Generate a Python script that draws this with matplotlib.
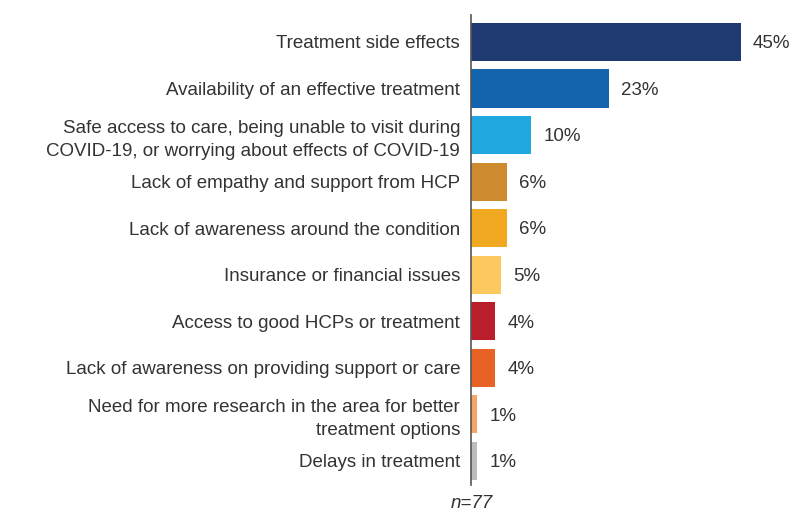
import matplotlib
matplotlib.use("Agg")
import matplotlib.pyplot as plt

categories = [
    "Treatment side effects",
    "Availability of an effective treatment",
    "Safe access to care, being unable to visit during\nCOVID-19, or worrying about effects of COVID-19",
    "Lack of empathy and support from HCP",
    "Lack of awareness around the condition",
    "Insurance or financial issues",
    "Access to good HCPs or treatment",
    "Lack of awareness on providing support or care",
    "Need for more research in the area for better\ntreatment options",
    "Delays in treatment",
]
values = [45, 23, 10, 6, 6, 5, 4, 4, 1, 1]
value_labels = ["45%", "23%", "10%", "6%", "6%", "5%", "4%", "4%", "1%", "1%"]
colors = ["#1F3A70", "#1464AD", "#22A8E0", "#CE8A2E", "#F2A922",
          "#FDC85E", "#BA1E2B", "#E86226", "#F9A466", "#BDBDBD"]

plt.rcParams['font.family'] = ['Liberation Sans', 'DejaVu Sans']
fig = plt.figure(figsize=(8, 5.24), dpi=100)
ax = fig.add_axes([0.589, 0.0744, 0.401, 0.897])

y = list(range(len(values)))
ax.barh(y, values, height=0.82, color=colors)
for yi, v, lab in zip(y, values, value_labels):
    ax.text(v + 2.0, yi + 0.04, lab, va="center", ha="left", fontsize=13.5, color="#333333")

ax.set_ylim(9.52, -0.58)
ax.set_xlim(0, 53.5)
ax.set_yticks(y)
ax.set_yticklabels(categories, fontsize=13.5, color="#333333", ha="right")
for t in ax.get_yticklabels():
    t.set_linespacing(1.45)
ax.tick_params(axis="y", length=0, pad=8)
ax.set_xticks([])
for s in ["top", "right", "bottom"]:
    ax.spines[s].set_visible(False)
ax.spines["left"].set_color("#555555")
ax.spines["left"].set_linewidth(1.2)

fig.text(0.59, 0.04, "n=77", ha="center", va="center", fontsize=13.5,
         color="#333333", style="italic")

fig.savefig("out.png", dpi=100)
